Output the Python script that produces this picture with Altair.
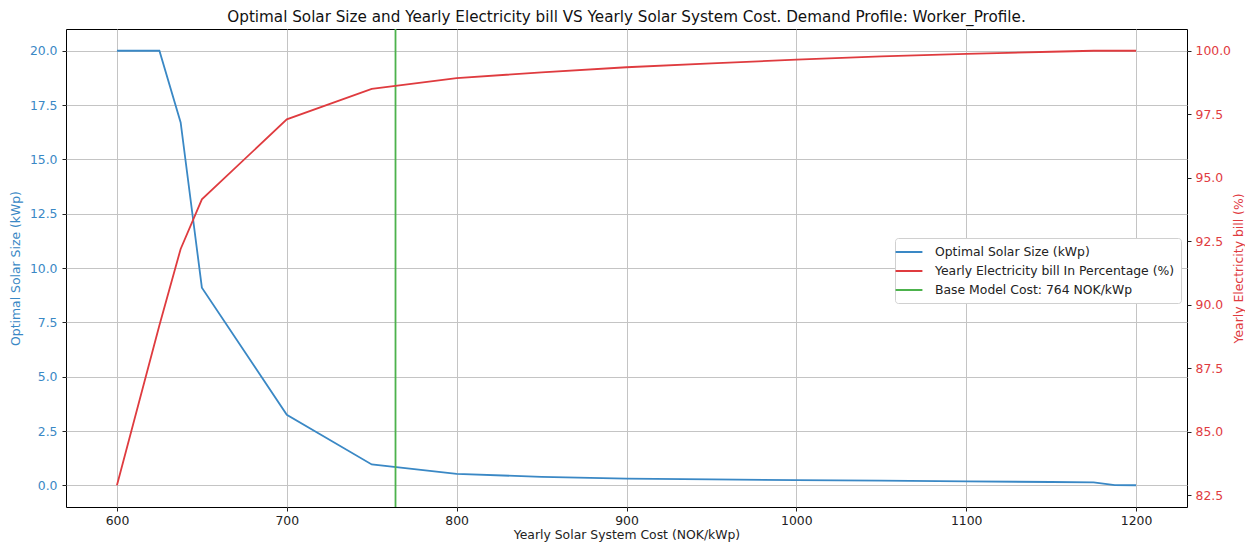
import altair as alt
import pandas as pd

# Data
cost = [600, 625, 637.5, 650, 700, 750, 800, 850, 900, 950, 1000, 1050, 1100, 1150, 1175, 1187.5, 1200]
solar_size = [20.0, 20.0, 16.7, 9.1, 3.25, 0.97, 0.53, 0.40, 0.32, 0.28, 0.25, 0.22, 0.19, 0.16, 0.14, 0.02, 0.01]
bill_pct = [82.9, 89.2, 92.2, 94.15, 97.3, 98.5, 98.92, 99.15, 99.35, 99.5, 99.65, 99.78, 99.88, 99.96, 100.0, 100.0, 100.0]
base_cost = [764]

x_ticks = [600, 700, 800, 900, 1000, 1100, 1200]
left_ticks = [0, 2.5, 5, 7.5, 10, 12.5, 15, 17.5, 20]
right_ticks = [82.5, 85, 87.5, 90, 92.5, 95, 97.5, 100]

names = ["Optimal Solar Size (kWp)",
         "Yearly Electricity bill In Percentage (%)",
         "Base Model Cost: 764 NOK/kWp"]
colors = ["#3a88c5", "#df3b3f", "#4cb24c"]


def padded(vals, frac=0.05):
    lo, hi = min(vals), max(vals)
    m = (hi - lo) * frac
    return [lo - m, hi + m]


df = pd.DataFrame({"cost": cost, "solar": solar_size, "bill": bill_pct})
df_base = pd.DataFrame({"cost": base_cost})

FONT = "DejaVu Sans"
FS = 12.4
color_scale = alt.Scale(domain=names, range=colors)
legend = alt.Legend(
    title=None, orient="none", legendX=829, legendY=209,
    symbolType="M-2,0H2", symbolSize=180, symbolStrokeWidth=2,
    labelFontSize=FS, labelFont=FONT, labelColor="#222", labelLimit=0,
    padding=6, strokeColor="#d0d0d0", fillColor="white", cornerRadius=3,
    rowPadding=4, labelOffset=18,
)

x_enc = alt.X("cost:Q",
              scale=alt.Scale(domain=padded(cost), nice=False, zero=False),
              axis=alt.Axis(values=x_ticks, title="Yearly Solar System Cost (NOK/kWp)",
                            grid=True, format="d", labelPadding=3, titlePadding=2))

blue = alt.Chart(df).transform_calculate(series=f"'{names[0]}'").mark_line(strokeWidth=1.8).encode(
    x=x_enc,
    y=alt.Y("solar:Q",
            scale=alt.Scale(domain=padded(solar_size), nice=False, zero=False),
            axis=alt.Axis(values=left_ticks, format=".1f", title="Optimal Solar Size (kWp)",
                          orient="left", grid=True, labelColor=colors[0], titleColor=colors[0],
                          labelPadding=5, titlePadding=7)),
    color=alt.Color("series:N", scale=color_scale, legend=legend),
)

green = alt.Chart(df_base).transform_calculate(series=f"'{names[2]}'").mark_rule(strokeWidth=1.8).encode(
    x=alt.X("cost:Q"),
    color=alt.Color("series:N", scale=color_scale, legend=legend),
)

red = alt.Chart(df).transform_calculate(series=f"'{names[1]}'").mark_line(strokeWidth=1.8).encode(
    x=alt.X("cost:Q"),
    y=alt.Y("bill:Q",
            scale=alt.Scale(domain=padded(bill_pct), nice=False, zero=False),
            axis=alt.Axis(values=right_ticks, format=".1f", title="Yearly Electricity bill (%)",
                          orient="right", grid=False, labelColor=colors[1], titleColor=colors[1],
                          titleAngle=270, labelPadding=4, titlePadding=15)),
    color=alt.Color("series:N", scale=color_scale, legend=legend),
)

chart = alt.layer(blue, green, red).resolve_scale(y="independent").properties(
    width=1121, height=478,
    padding={"left": 58, "top": 21, "right": 58, "bottom": 35},
    autosize=alt.AutoSizeParams(type="none"),
    title=alt.TitleParams(
        "Optimal Solar Size and Yearly Electricity bill VS Yearly Solar System Cost. Demand Profile: Worker_Profile.",
        fontSize=15.2, font=FONT, fontWeight="normal", color="#111", anchor="middle", offset=3),
).configure_axis(
    labelFont=FONT, titleFont=FONT, labelFontSize=FS, titleFontSize=FS,
    titleFontWeight="normal", labelColor="#222", titleColor="#222",
    tickColor="#222", tickSize=4, domain=False,
    gridColor="#c4c4c4", gridWidth=1,
).configure_view(stroke="black", strokeWidth=1)

chart.save("out.html", embed_options={"renderer": "svg", "actions": False})
